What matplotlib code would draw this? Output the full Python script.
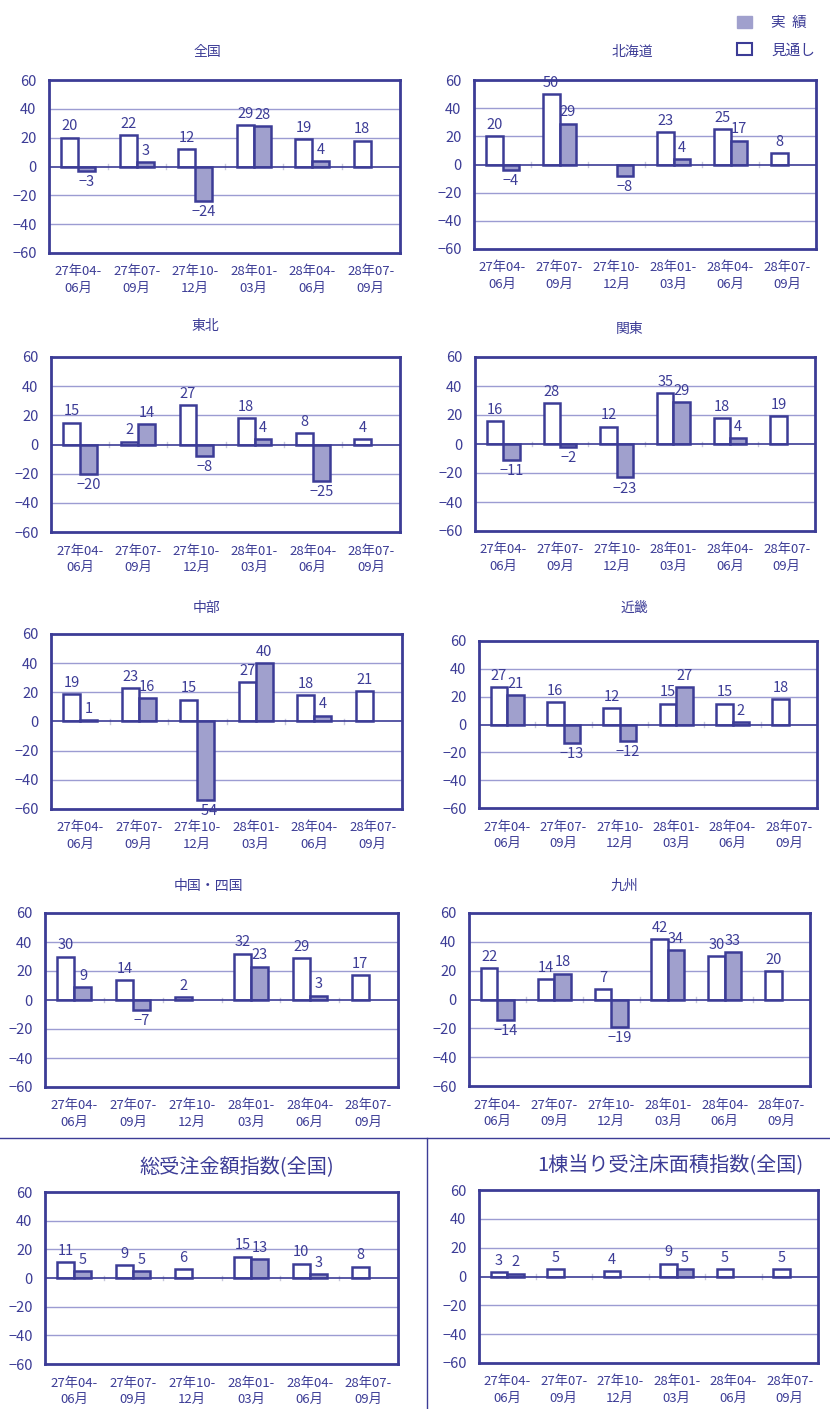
import matplotlib.pyplot as plt
import numpy as np
from matplotlib.patches import Patch
from matplotlib.lines import Line2D

plt.rcParams['font.family'] = ['Noto Sans CJK JP', 'DejaVu Sans']

navy = '#3c3c96'
fill = '#a0a0cd'
gridc = '#9c9cd2'

#%% data (見通し = outlook, 実績 = actual), None = no bar
periods = ['27年04-\n06月', '27年07-\n09月', '27年10-\n12月',
           '28年01-\n03月', '28年04-\n06月', '28年07-\n09月']

zenkoku_mit = [20, 22, 12, 29, 19, 18]
zenkoku_jis = [-3, 3, -24, 28, 4, None]
hokkaido_mit = [20, 50, None, 23, 25, 8]
hokkaido_jis = [-4, 29, -8, 4, 17, None]
tohoku_mit = [15, 2, 27, 18, 8, 4]
tohoku_jis = [-20, 14, -8, 4, -25, None]
kanto_mit = [16, 28, 12, 35, 18, 19]
kanto_jis = [-11, -2, -23, 29, 4, None]
chubu_mit = [19, 23, 15, 27, 18, 21]
chubu_jis = [1, 16, -54, 40, 4, None]
kinki_mit = [27, 16, 12, 15, 15, 18]
kinki_jis = [21, -13, -12, 27, 2, None]
chushi_mit = [30, 14, 2, 32, 29, 17]
chushi_jis = [9, -7, None, 23, 3, None]
kyushu_mit = [22, 14, 7, 42, 30, 20]
kyushu_jis = [-14, 18, -19, 34, 33, None]
kingaku_mit = [11, 9, 6, 15, 10, 8]
kingaku_jis = [5, 5, None, 13, 3, None]
yuka_mit = [3, 5, 4, 9, 5, 5]
yuka_jis = [2, None, None, 5, None, None]

W, H = 830, 1409
fig = plt.figure(figsize=(W / 100, H / 100), dpi=100)

# title, outlook, actual, axes box in pixels (x0, y0, x1, y1), title pos, title size
panels = [
    ('全国', zenkoku_mit, zenkoku_jis, (49, 80, 400, 253), (207, 52), 10),
    ('北海道', hokkaido_mit, hokkaido_jis, (474, 80, 816, 249), (632, 52), 10),
    ('東北', tohoku_mit, tohoku_jis, (51, 357, 400, 532), (205, 326), 10),
    ('関東', kanto_mit, kanto_jis, (475, 357, 815, 531), (630, 329), 10),
    ('中部', chubu_mit, chubu_jis, (51, 634, 402, 809), (207, 608), 10),
    ('近畿', kinki_mit, kinki_jis, (479, 641, 817, 808), (634, 608), 10),
    ('中国・四国', chushi_mit, chushi_jis, (45, 913, 398, 1087), (208, 886), 10),
    ('九州', kyushu_mit, kyushu_jis, (469, 913, 810, 1086), (624, 886), 10),
    ('総受注金額指数(全国)', kingaku_mit, kingaku_jis, (45, 1192, 398, 1364), (237, 1167), 14.5),
    ('1棟当り受注床面積指数(全国)', yuka_mit, yuka_jis, (479, 1190, 818, 1363), (670, 1166), 14.5),
]

bw = 0.29
fs = 10.5

def put_label(ax, x, v):
    if v >= 0:
        ax.annotate(str(v), (x, v), xytext=(0, 3), textcoords='offset points',
                    ha='center', va='bottom', color=navy, fontsize=fs)
    else:
        ax.annotate('\u2212' + str(-v), (x, v), xytext=(0, -3), textcoords='offset points',
                    ha='center', va='top', color=navy, fontsize=fs)

for title, mit, jis, box, tpos, tsize in panels:
    x0, y0, x1, y1 = box
    ax = fig.add_axes([x0 / W, 1 - y1 / H, (x1 - x0) / W, (y1 - y0) / H])
    x = np.arange(len(periods))
    for i in x:
        if mit[i] is not None:
            ax.bar(i - bw / 2, mit[i], bw, color='white', edgecolor=navy, linewidth=1.8, zorder=3)
            put_label(ax, i - bw / 2, mit[i])
        if jis[i] is not None:
            ax.bar(i + bw / 2, jis[i], bw, color=fill, edgecolor=navy, linewidth=1.8, zorder=3)
            put_label(ax, i + bw / 2, jis[i])
    ax.set_xlim(-0.5, len(periods) - 0.5)
    ax.set_ylim(-60, 60)
    ax.set_yticks(np.arange(-60, 61, 20))
    for g in [-40, -20, 20, 40]:
        ax.axhline(g, color=gridc, lw=1, zorder=1)
    ax.axhline(0, color=navy, lw=1.2, zorder=4)
    # category boundary ticks on the zero line
    for b in np.arange(0.5, len(periods) - 0.5):
        ax.plot([b, b], [-1.5, 1.5], color='#c8c8dc', lw=1, zorder=2)
    ax.set_xticks(x)
    ax.set_xticklabels(periods, linespacing=1.35)
    ax.tick_params(length=0, colors=navy)
    ax.tick_params(axis='x', pad=9, labelsize=9.5)
    ax.tick_params(axis='y', pad=9, labelsize=fs)
    for s in ax.spines.values():
        s.set_color(navy)
        s.set_linewidth(2)
    fig.text(tpos[0] / W, 1 - tpos[1] / H, title, ha='center', va='center',
             color=navy, fontsize=tsize)

# legend
handles = [Patch(facecolor=fill, edgecolor=fill), Patch(facecolor='white', edgecolor=navy, linewidth=1.5)]
fig.legend(handles, ['実  績', '見通し'], loc='upper right', bbox_to_anchor=(828 / W, 1 - 3 / H),
           frameon=False, fontsize=fs, labelcolor=navy, handlelength=1.0, handleheight=0.9,
           labelspacing=0.9, handletextpad=1.3)

# separators around bottom panels
fig.add_artist(Line2D([0, 1], [1 - 1138 / H, 1 - 1138 / H], transform=fig.transFigure, color=navy, lw=1))
fig.add_artist(Line2D([427 / W, 427 / W], [0, 1 - 1138 / H], transform=fig.transFigure, color=navy, lw=1))

fig.savefig('out.png', dpi=100)
